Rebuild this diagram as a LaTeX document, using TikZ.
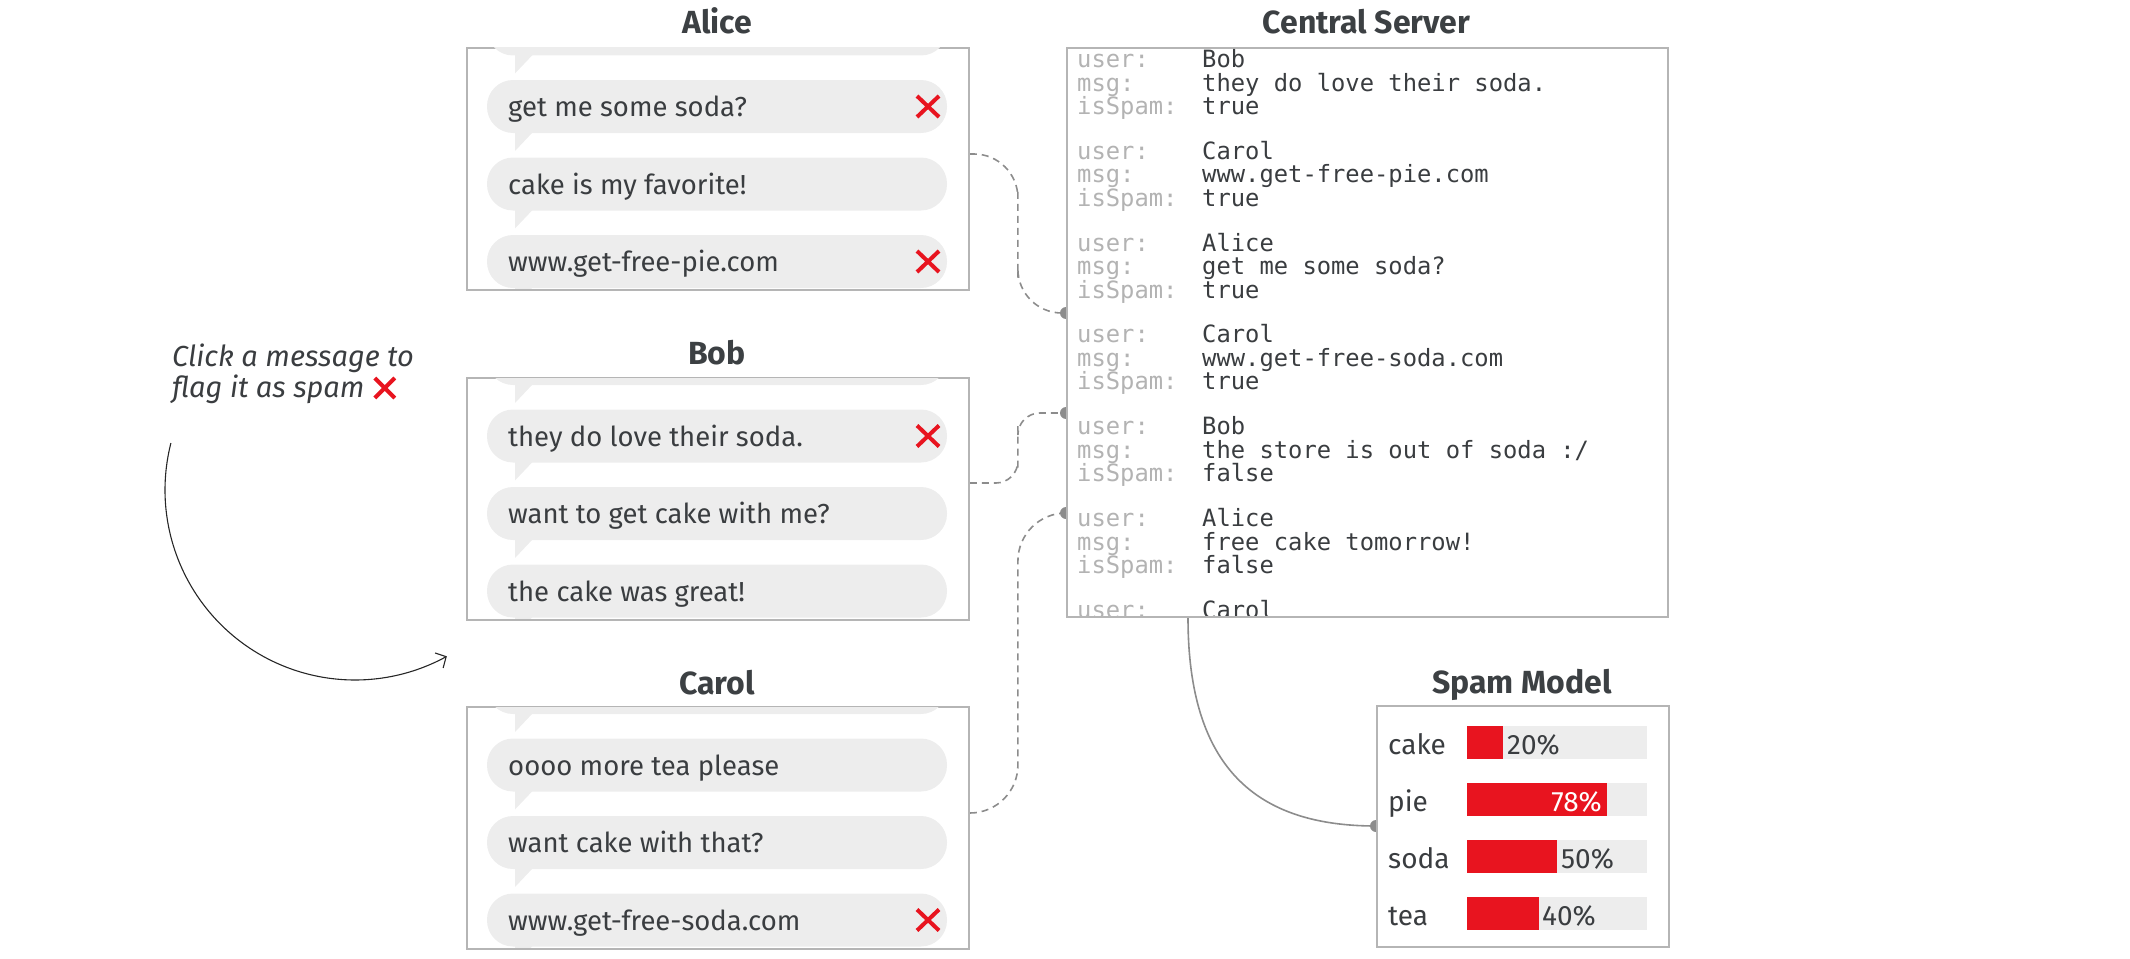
\documentclass[tikz,border=0pt]{standalone}
\usepackage{fontspec}
\IfFontExistsTF{FiraSans-Light.otf}{%
  \setmainfont{FiraSans}[Extension=.otf,UprightFont=*-Light,ItalicFont=*-LightItalic,BoldFont=*-Bold]}{%
  \setmainfont{Fira Sans}}
\newfontfamily\srvmono{DejaVu Sans Mono}
\usetikzlibrary{arrows.meta,calc,backgrounds}
\definecolor{boxgray}{HTML}{B5B5B5}
\definecolor{bubblegray}{HTML}{EDEDED}
\definecolor{textdark}{HTML}{3A3D40}
\definecolor{titledark}{HTML}{3C4043}
\definecolor{labgray}{HTML}{B3B3B3}
\definecolor{spamred}{HTML}{E8141F}
\definecolor{linkgray}{HTML}{8C8C8C}
\tikzset{
  panel/.style={draw=boxgray, line width=1.8pt, inner sep=0pt, anchor=north west},
  title/.style={anchor=base, inner sep=0pt, text=titledark, font=\bfseries\fontsize{32}{36}\selectfont},
  msgtext/.style={anchor=base west, inner sep=0pt, text=textdark, font=\fontsize{27.5}{32}\selectfont},
  word/.style={inner sep=0pt, text=textdark, font=\fontsize{28}{32}\selectfont},
  caption/.style={anchor=base west, inner sep=0pt, text=textdark, font=\itshape\fontsize{29}{33}\selectfont},
  xmark/.style={draw=spamred, line width=4pt},
  lab/.style={anchor=base west, inner sep=0pt, text=labgray, font=\srvmono\fontsize{23.8}{24}\selectfont},
  val/.style={anchor=base west, inner sep=0pt, text=textdark, font=\srvmono\fontsize{23.8}{24}\selectfont},
  link/.style={draw=linkgray, line width=1.6pt, dash pattern=on 7pt off 5pt},
  solidlink/.style={draw=linkgray, line width=1.6pt},
  dotmark/.style={fill=linkgray},
}
% bubble: #1 top, #2 name, #3 text, #4 flag
\newcommand\Bubble[4]{%
  \fill[bubblegray, rounded corners=26pt] (487,#1) rectangle (947,{#1+53});
  \fill[bubblegray] (515,{#1+52}) -- (533,{#1+52}) -- (515,{#1+71}) -- cycle;
  \node[msgtext] (#2) at (508,{#1+36.5}) {#3};
  \ifnum#4=1 \draw[xmark] (917,{#1+16}) -- (939,{#1+37}) (917,{#1+37}) -- (939,{#1+16});\fi
}
% server entry: #1 baseline, #2 name, #3 user, #4 msg, #5 spam
\newcommand\Entry[5]{%
  \node[lab] (#2ul) at (1077,#1) {user:};
  \node[val] (#2uv) at (1202,#1) {#3};
  \node[lab] (#2ml) at (1077,{#1+23.5}) {msg:};
  \node[val] (#2mv) at (1202,{#1+23.5}) {#4};
  \node[lab] (#2sl) at (1077,{#1+47}) {isSpam:};
  \node[val] (#2sv) at (1202,{#1+47}) {#5};
}
% model row: #1 top, #2 name, #3 label, #4 red width
\newcommand\ModelRow[4]{%
  \node[word, anchor=base west] (#2) at (1388,{#1+28}) {#3};
  \fill[bubblegray] (1467,#1) rectangle (1647,{#1+33});
  \fill[spamred] (1467,#1) rectangle ({1467+#4},{#1+33});
}
\begin{document}
\begin{tikzpicture}[x=1pt,y=-1pt]
\useasboundingbox (0,0) rectangle (2130,958);

% ---------- Alice ----------
\node[title] (aliceT) at (717,34) {Alice};
\node[panel, minimum width=502pt, minimum height=242pt] (alice) at (466,47) {};
\begin{scope}
  \clip (467,48) rectangle (967,288);
  \Bubble{2.5}{a0}{}{0}
  \Bubble{80}{a1}{get me some soda?}{1}
  \Bubble{157.5}{a2}{cake is my favorite!}{0}
  \Bubble{235}{a3}{www.get-free-pie.com}{1}
\end{scope}

% ---------- Bob ----------
\node[title] (bobT) at (717,364) {Bob};
\node[panel, minimum width=502pt, minimum height=242pt] (bob) at (466,377) {};
\begin{scope}
  \clip (467,378) rectangle (967,618);
  \Bubble{332}{b0}{}{0}
  \Bubble{409.5}{b1}{they do love their soda.}{1}
  \Bubble{487}{b2}{want to get cake with me?}{0}
  \Bubble{564.5}{b3}{the cake was great!}{0}
\end{scope}

% ---------- Carol ----------
\node[title] (carolT) at (717,694) {Carol};
\node[panel, minimum width=502pt, minimum height=242pt] (carol) at (466,706) {};
\begin{scope}
  \clip (467,707) rectangle (967,947);
  \Bubble{661}{c0}{}{0}
  \Bubble{738.5}{c1}{oooo more tea please}{0}
  \Bubble{816}{c2}{want cake with that?}{0}
  \Bubble{893.5}{c3}{www.get-free-soda.com}{1}
\end{scope}

% ---------- caption + arrow ----------
\node[caption] (cap1) at (172,366) {Click a message to};
\node[caption] (cap2) at (172,397) {flag it as spam};
\coordinate (capx) at ($(cap2.base east)+(20,-9)$);
\draw[xmark] ($(capx)+(-10,-10)$) -- ($(capx)+(10,10)$) ($(capx)+(-10,10)$) -- ($(capx)+(10,-10)$);
\draw[line width=1.1pt, black!85, -{Straight Barb[length=8pt,width=17pt]}]
  plot[smooth, domain=194.3:61.1, samples=70] ({355+190*cos(\x)},{490+190*sin(\x)});

% ---------- Central Server ----------
\node[title] (serverT) at (1366.5,34) {Central Server};
\node[panel, fill=white, minimum width=601pt, minimum height=569pt] (server) at (1066,47) {};
\begin{scope}
  \clip (1067,48) rectangle (1666,615);
  \Entry{67.5}{e1}{Bob}{they do love their soda.}{true}
  \Entry{159.3}{e2}{Carol}{www.get-free-pie.com}{true}
  \Entry{251.1}{e3}{Alice}{get me some soda?}{true}
  \Entry{342.9}{e4}{Carol}{www.get-free-soda.com}{true}
  \Entry{434.7}{e5}{Bob}{the store is out of soda :/}{false}
  \Entry{526.5}{e6}{Alice}{free cake tomorrow!}{false}
  \Entry{618.3}{e7}{Carol}{}{}
\end{scope}

% ---------- Spam Model ----------
\node[title] (modelT) at (1522,693) {Spam Model};
\node[panel, fill=white, minimum width=292pt, minimum height=241pt] (model) at (1376,705) {};
\ModelRow{726}{rcake}{cake}{36}
\ModelRow{783}{rpie}{pie}{140}
\ModelRow{840}{rsoda}{soda}{90}
\ModelRow{897}{rtea}{tea}{72}
\node[word, anchor=base west] (pcake) at (1507,754) {20\%};
\node[word, anchor=base east, text=white] (ppie) at (1602,811) {78\%};
\node[word, anchor=base west] (psoda) at (1561,868) {50\%};
\node[word, anchor=base west] (ptea) at (1542,925) {40\%};

% ---------- connectors ----------
\coordinate (aliceOut) at ($(alice.north east)+(0,107)$);
\coordinate (bobOut) at ($(bob.north east)+(0,106)$);
\coordinate (carolOut) at ($(carol.north east)+(0,107)$);
\coordinate (srvInA) at ($(server.north west)+(0,266)$);
\coordinate (srvInB) at ($(server.north west)+(0,366)$);
\coordinate (srvInC) at ($(server.north west)+(0,466)$);
\coordinate (srvOut) at ($(server.south west)+(122,0)$);
\coordinate (modelIn) at ($(model.north west)+(0,121)$);
\begin{scope}[on background layer]
  \draw[link, rounded corners=44pt] (aliceOut) -| ($(aliceOut)!0.5!(srvInA)$) |- (srvInA);
  \draw[link, rounded corners=22pt] (bobOut) -| ($(bobOut)!0.5!(srvInB)$) |- (srvInB);
  \draw[link, rounded corners=48pt] (carolOut) -| ($(carolOut)!0.5!(srvInC)$) |- (srvInC);
  \fill[dotmark] (srvInA) circle (6pt);
  \fill[dotmark] (srvInB) circle (6pt);
  \fill[dotmark] (srvInC) circle (6pt);
  \draw[solidlink] (srvOut) .. controls +(0,150) and +(-120,0) .. (modelIn);
  \fill[dotmark] (modelIn) circle (6pt);
\end{scope}
\end{tikzpicture}
\end{document}
